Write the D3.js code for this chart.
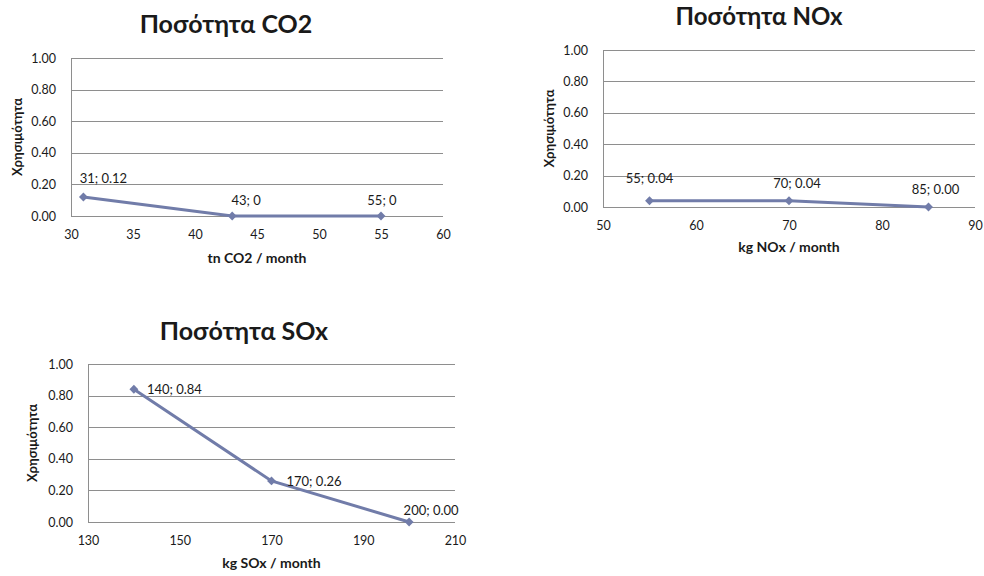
<!DOCTYPE html>
<html>
<head>
<meta charset="utf-8">
<script src="https://cdn.jsdelivr.net/npm/d3@7"></script>
<style>
  body { margin: 0; background: #fff; }
  svg text { font-family: Lato, "Open Sans", sans-serif; fill: #1a1a1a; }
</style>
</head>
<body>
<script>
// data
var co2X = [31, 43, 55],
    co2Y = [0.12, 0, 0],
    co2Labels = ["31; 0.12", "43; 0", "55; 0"],
    co2Ticks = [30, 35, 40, 45, 50, 55, 60];

var noxX = [55, 70, 85],
    noxY = [0.04, 0.04, 0.00],
    noxLabels = ["55; 0.04", "70; 0.04", "85; 0.00"],
    noxTicks = [50, 60, 70, 80, 90];

var soxX = [140, 170, 200],
    soxY = [0.84, 0.26, 0.00],
    soxLabels = ["140; 0.84", "170; 0.26", "200; 0.00"],
    soxTicks = [130, 150, 170, 190, 210];

var yTicks = [0, 0.2, 0.4, 0.6, 0.8, 1.0];

var lineColor = "#717ca9",
    gridColor = "#8e8e8e";

var svg = d3.select("body").append("svg")
    .attr("width", 984)
    .attr("height", 576);

// one panel per pollutant
var panels = [
  {title: "Ποσότητα CO2", xTitle: "tn CO2 / month", xs: co2X, ys: co2Y, labels: co2Labels, ticks: co2Ticks,
   left: 71, right: 443, top: 58, bottom: 216, titleX: 226, titleY: 33, titleSize: 25, xTitleY: 263, yTitleX: 17,
   offs: [[20, -14, "middle"], [14, -11, "middle"], [1, -11, "middle"]]},
  {title: "Ποσότητα NOx", xTitle: "kg NOx / month", xs: noxX, ys: noxY, labels: noxLabels, ticks: noxTicks,
   left: 603, right: 975, top: 50, bottom: 207, titleX: 759, titleY: 25, titleSize: 24, xTitleY: 252, yTitleX: 549,
   offs: [[0, -18, "middle"], [8, -13, "middle"], [7, -13, "middle"]]},
  {title: "Ποσότητα SOx", xTitle: "kg SOx / month", xs: soxX, ys: soxY, labels: soxLabels, ticks: soxTicks,
   left: 88, right: 455, top: 364, bottom: 522, titleX: 244, titleY: 340, titleSize: 25, xTitleY: 568, yTitleX: 32,
   offs: [[13, 5, "start"], [15, 5, "start"], [22, -7, "middle"]]}
];

panels.forEach(function(p) {
  var x = d3.scaleLinear()
      .domain(d3.extent(p.ticks))
      .range([p.left, p.right]);
  var y = d3.scaleLinear()
      .domain([0, 1])
      .range([p.bottom, p.top]);

  var g = svg.append("g");

  // horizontal gridlines
  g.selectAll(".grid")
    .data(yTicks)
    .enter()
    .append("line")
    .attr("x1", p.left)
    .attr("x2", p.right)
    .attr("y1", function(d) { return Math.round(y(d)) + 0.5; })
    .attr("y2", function(d) { return Math.round(y(d)) + 0.5; })
    .attr("stroke", gridColor)
    .attr("stroke-width", 1);

  // left axis line
  g.append("line")
    .attr("x1", Math.round(p.left) + 0.5)
    .attr("x2", Math.round(p.left) + 0.5)
    .attr("y1", y(1))
    .attr("y2", y(0))
    .attr("stroke", gridColor);

  // y axis
  var yAxis = d3.axisLeft(y)
      .tickValues(yTicks)
      .tickFormat(d3.format(".2f"))
      .tickSize(0)
      .tickPadding(15);
  g.append("g")
    .attr("transform", "translate(" + p.left + ",0)")
    .call(yAxis)
    .call(function(s) { s.select(".domain").remove(); })
    .selectAll("text")
    .style("font-size", "12.5px")
    .attr("fill", "#1a1a1a");

  // x axis
  var xAxis = d3.axisBottom(x)
      .tickValues(p.ticks)
      .tickSize(0)
      .tickPadding(14);
  g.append("g")
    .attr("transform", "translate(0," + p.bottom + ")")
    .call(xAxis)
    .call(function(s) { s.select(".domain").remove(); })
    .selectAll("text")
    .style("font-size", "12.5px")
    .attr("fill", "#1a1a1a");

  var pts = p.xs.map(function(v, i) { return {x: v, y: p.ys[i], label: p.labels[i], off: p.offs[i]}; });

  var line = d3.line()
      .x(function(d) { return x(d.x); })
      .y(function(d) { return y(d.y); });

  g.append("path")
    .datum(pts)
    .attr("d", line)
    .attr("fill", "none")
    .attr("stroke", lineColor)
    .attr("stroke-width", 3);

  g.selectAll(".pt")
    .data(pts)
    .enter()
    .append("path")
    .attr("d", d3.symbol().type(d3.symbolDiamond2).size(50))
    .attr("transform", function(d) { return "translate(" + x(d.x) + "," + y(d.y) + ")"; })
    .attr("fill", lineColor);

  g.selectAll(".lbl")
    .data(pts)
    .enter()
    .append("text")
    .attr("x", function(d) { return x(d.x) + d.off[0]; })
    .attr("y", function(d) { return y(d.y) + d.off[1]; })
    .attr("text-anchor", function(d) { return d.off[2]; })
    .style("font-size", "13px")
    .text(function(d) { return d.label; });

  // titles
  g.append("text")
    .attr("x", p.titleX)
    .attr("y", p.titleY)
    .attr("text-anchor", "middle")
    .style("font-size", p.titleSize + "px")
    .style("font-weight", "bold")
    .text(p.title);

  g.append("text")
    .attr("x", (p.left + p.right) / 2)
    .attr("y", p.xTitleY)
    .attr("text-anchor", "middle")
    .style("font-size", "14px")
    .style("font-weight", "bold")
    .text(p.xTitle);

  g.append("text")
    .attr("transform", "translate(" + (p.yTitleX + 5) + "," + ((p.top + p.bottom) / 2) + ") rotate(-90)")
    .attr("text-anchor", "middle")
    .style("font-size", "13px")
    .style("font-weight", "bold")
    .text("Χρησιμότητα");
});
</script>
</body>
</html>
